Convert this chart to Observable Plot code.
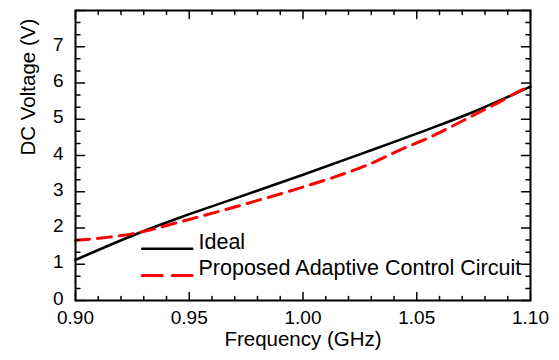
<!DOCTYPE html>
<html>
<head>
<meta charset="utf-8">
<script src="https://cdn.jsdelivr.net/npm/d3@7"></script>
<script src="https://cdn.jsdelivr.net/npm/@observablehq/plot@0.6"></script>
<style>
  html, body { margin: 0; padding: 0; background: white; }
  #chart { width: 559px; height: 360px; }
</style>
</head>
<body>
<div id="chart"></div>
<script>
// ---- data ----
const idealFreq = [0.900, 0.929, 0.946, 0.974, 1.000, 1.028, 1.055, 1.074, 1.100];
const idealVolt = [1.12, 1.89, 2.29, 2.90, 3.47, 4.10, 4.72, 5.18, 5.90];
const adaptFreq = [0.900, 0.929, 0.946, 0.974, 1.000, 1.014, 1.028, 1.044, 1.055, 1.064, 1.074, 1.084, 1.094, 1.100];
const adaptVolt = [1.66, 1.89, 2.17, 2.65, 3.13, 3.41, 3.73, 4.19, 4.48, 4.76, 5.08, 5.40, 5.74, 5.93];
const seriesNames = ["Ideal", "Proposed Adaptive Control Circuit"];
const xTitle = "Frequency (GHz)";
const yTitle = "DC Voltage (V)";
const xMajor = [0.90, 0.95, 1.00, 1.05, 1.10];
const xMinor = [0.91, 0.92, 0.93, 0.94, 0.96, 0.97, 0.98, 0.99, 1.01, 1.02, 1.03, 1.04, 1.06, 1.07, 1.08, 1.09];
const yMajor = [0, 1, 2, 3, 4, 5, 6, 7, 8];
const yLabels = [0, 1, 2, 3, 4, 5, 6, 7];
const yMinor = [1/3, 2/3, 4/3, 5/3, 7/3, 8/3, 10/3, 11/3, 13/3, 14/3, 16/3, 17/3, 19/3, 20/3, 22/3, 23/3];

const ideal = idealFreq.map((f, i) => ({f, v: idealVolt[i]}));
const adapt = adaptFreq.map((f, i) => ({f, v: adaptVolt[i]}));

const seg = {draw(ctx, l) { ctx.moveTo(0, 0); ctx.lineTo(0, -l); }};
const font = "'Liberation Sans', Arial, Helvetica, sans-serif";

function ticksX(vals, len) {
  return [
    Plot.vector(vals, {x: d => d, frameAnchor: "bottom", rotate: 0, length: len, anchor: "start", shape: seg, stroke: "black", strokeWidth: 1.5}),
    Plot.vector(vals, {x: d => d, frameAnchor: "top", rotate: 180, length: len, anchor: "start", shape: seg, stroke: "black", strokeWidth: 1.5})
  ];
}
function ticksY(vals, len) {
  return [
    Plot.vector(vals, {y: d => d, frameAnchor: "left", rotate: 90, length: len, anchor: "start", shape: seg, stroke: "black", strokeWidth: 1.5}),
    Plot.vector(vals, {y: d => d, frameAnchor: "right", rotate: -90, length: len, anchor: "start", shape: seg, stroke: "black", strokeWidth: 1.5})
  ];
}

const chart = Plot.plot({
  width: 559,
  height: 360,
  marginLeft: 75,
  marginRight: 29,
  marginTop: 10,
  marginBottom: 60,
  x: {domain: [0.9, 1.1]},
  y: {domain: [0, 8]},
  style: {fontFamily: font, fontSize: "19px", color: "black", background: "white", overflow: "visible"},
  marks: [
    Plot.line(ideal, {x: "f", y: "v", stroke: "black", strokeWidth: 2.6, curve: "monotone-x"}),
    Plot.line(adapt, {x: "f", y: "v", stroke: "#ff0000", strokeWidth: 3, strokeDasharray: "14,8", curve: "monotone-x"}),
    ...ticksX(xMajor, 8),
    ...ticksX(xMinor, 4),
    ...ticksY(yMajor, 9),
    ...ticksY(yMinor, 4.5),
    Plot.frame({stroke: "black", strokeWidth: 2}),
    Plot.axisX(xMajor, {anchor: "bottom", tickSize: 0, tickPadding: 10, tickFormat: d3.format(".2f"), label: null, fontSize: 19}),
    Plot.axisY(yLabels, {anchor: "left", tickSize: 0, tickPadding: 12, dy: -2, tickFormat: d3.format("d"), label: null, fontSize: 19}),
    Plot.text([xTitle], {frameAnchor: "bottom", dy: 45, fontSize: 20.5, text: d => d}),
    Plot.text([yTitle], {frameAnchor: "left", dx: -47, rotate: -90, fontSize: 20.5, text: d => d}),
    // legend
    Plot.vector([seriesNames[0]], {frameAnchor: "bottom-left", dx: 66.7, dy: -51.7, rotate: 90, length: 50, anchor: "start", shape: seg, stroke: "black", strokeWidth: 2.6}),
    Plot.vector([seriesNames[1]], {frameAnchor: "bottom-left", dx: 66.7, dy: -25, rotate: 90, length: 50, anchor: "start", shape: seg, stroke: "#ff0000", strokeWidth: 3, strokeDasharray: "20,10"}),
    Plot.text([seriesNames[0]], {frameAnchor: "bottom-left", dx: 123, dy: -51.5, textAnchor: "start", fontSize: 21.5, text: d => d}),
    Plot.text([seriesNames[1]], {frameAnchor: "bottom-left", dx: 123, dy: -26, textAnchor: "start", fontSize: 21.5, text: d => d})
  ]
});
document.getElementById("chart").appendChild(chart);
</script>
</body>
</html>
